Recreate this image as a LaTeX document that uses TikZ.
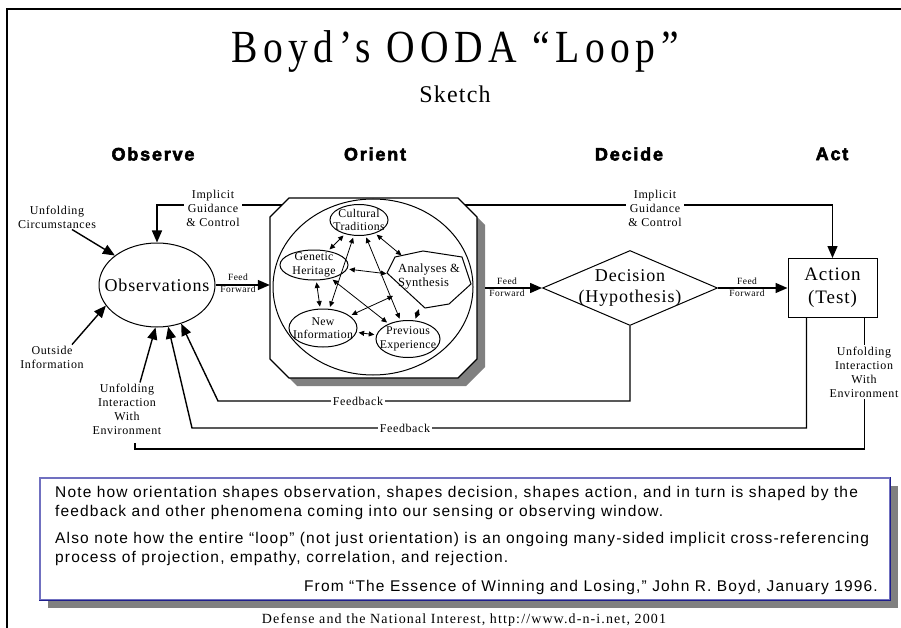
\documentclass[tikz,border=0pt]{standalone}
\usepackage{fontspec}
\setmainfont{Liberation Serif}
\newfontfamily\titlefont[LetterSpace=12,FakeStretch=0.86]{Liberation Serif}
\newfontfamily\spfont[LetterSpace=5]{Liberation Serif}
\newfontfamily\innfont[LetterSpace=3]{Liberation Serif}
\newfontfamily\footfont[LetterSpace=8]{Liberation Serif}
\newfontfamily\headfont[LetterSpace=10,FakeBold=3]{Liberation Sans Bold}
\newfontfamily\notefont[LetterSpace=7.5]{Liberation Sans}
\usetikzlibrary{arrows.meta,shapes.geometric,calc}
\definecolor{shadowgray}{RGB}{128,128,128}
\definecolor{notelight}{RGB}{112,112,192}
\definecolor{notedark}{RGB}{30,30,140}
\begin{document}
\begin{tikzpicture}[x=1pt,y=-1pt,
  labtxt/.style={font=\spfont\fontsize{12}{14}\selectfont, align=center, inner sep=1pt},
  smalltxt/.style={font=\spfont\fontsize{9.5}{12}\selectfont, align=center, inner sep=0pt},
  inntxt/.style={font=\innfont\fontsize{11.8}{13.5}\selectfont, align=center, inner sep=0pt},
  bigtxt/.style={font=\spfont\fontsize{18}{21}\selectfont, align=center, inner sep=0pt},
  headtxt/.style={font=\headfont\fontsize{18}{20}\selectfont},
  connline/.style={line width=1.4pt},
  arrline/.style={connline, -{Triangle[length=12pt,width=10pt]}},
  dblarrow/.style={line width=0.8pt, {Triangle[length=5.5pt,width=5pt]}-{Triangle[length=5.5pt,width=5pt]}, shorten <=2pt, shorten >=2pt},
  ellnode/.style={draw, line width=1pt, ellipse, inner sep=0pt},
  wlabel/.style={labtxt, fill=white, inner sep=2pt},
  notetxt/.style={font=\notefont\fontsize{15.5}{19}\selectfont, inner sep=0pt}
]
\useasboundingbox (0,0) rectangle (901,628);
% frame
\draw[line width=1.5pt] (7,628) -- (7,9) -- (901,9);
% title
\node[font=\titlefont\fontsize{46}{50}\selectfont, anchor=base] (title) at (455,63) {Boyd’s OODA “Loop”};
\node[font=\spfont\fontsize{24}{26}\selectfont, anchor=base] (sub) at (455,103) {Sketch};
% headings
\node[headtxt] (hO) at (153,154) {Observe};
\node[headtxt] (hOr) at (375,154) {Orient};
\node[headtxt] (hD) at (629,154) {Decide};
\node[headtxt] (hA) at (832,154) {Act};

% main nodes
\node[ellnode, minimum width=116, minimum height=84, label={[bigtxt]center:Observations}] (Obs) at (157,285) {};
\node[minimum width=207, minimum height=180, inner sep=0pt] (OR) at (373.5,288) {};
\node[diamond, draw, line width=1pt, minimum width=175, minimum height=75, inner sep=0pt, label={[bigtxt]center:Decision\\(Hypothesis)}] (D) at (630,288) {};
\node[draw, line width=1pt, minimum width=89, minimum height=59, bigtxt, font=\spfont\fontsize{19}{23}\selectfont] (A) at (832.5,288) {Action\\(Test)};

% implicit guidance (behind octagon)
\coordinate (igy) at (0,205);
\draw[arrline] (OR.center |- igy) -| (Obs.north);
\draw[arrline] (OR.center |- igy) -| (A.north);

% octagon with shadow
\fill[shadowgray] (297,206) -- (466,206) -- (485,225) -- (485,367) -- (466,386) -- (297,386) -- (278,367) -- (278,225) -- cycle;
\draw[line width=1.2pt, fill=white] (289,198) -- (458,198) -- (477,217) -- (477,359) -- (458,378) -- (289,378) -- (270,359) -- (270,217) -- cycle;
\node[ellnode, minimum width=200, minimum height=176] (ORC) at (373,287) {};

% inner nodes
\node[ellnode, minimum width=58, minimum height=31, label={[inntxt]center:Cultural\\Traditions}] (CT) at (359,220) {};
\node[ellnode, minimum width=68, minimum height=30, label={[inntxt]center:Genetic\\Heritage}] (GH) at (314,265) {};
\node[ellnode, minimum width=68, minimum height=38, label={[inntxt]center:New\\Information}] (NI) at (323,328) {};
\node[ellnode, minimum width=64, minimum height=37, label={[inntxt]center:Previous\\Experience}] (PE) at (408,339) {};
\node[ellipse, minimum width=84, minimum height=58, inner sep=0pt] (AS) at (430,279) {};
\draw[line width=1pt] (387,273) -- (395,257) -- (423,251) -- (462,257) -- (471,284) -- (449,304) -- (425,308) -- cycle;
\node[inntxt, font=\innfont\fontsize{12.5}{14}\selectfont, align=left] (AStxt) at (429,277) {Analyses \&\\Synthesis};

\draw[dblarrow] (CT) -- (GH);
\draw[dblarrow] (CT) -- (AS);
\draw[dblarrow] (GH) -- (AS);
\draw[dblarrow] (GH) -- (NI);
\draw[dblarrow] (AS) -- (PE);
\draw[dblarrow] (NI) -- (PE);
\draw[dblarrow] (CT) -- (NI);
\draw[dblarrow] (CT) -- (PE);
\draw[dblarrow] (GH) -- (PE);
\draw[dblarrow] (AS) -- (NI);

% feed forward
\draw[arrline] (Obs.east) -- (Obs.east -| OR.west);
\draw[arrline] ([xshift=8pt]OR.east) -- (D.west);
\draw[arrline] (D.east) -- (A.west);
\node[smalltxt] (ff1) at (238,283) {Feed\\Forward};
\node[smalltxt] (ff2) at (507,287) {Feed\\Forward};
\node[smalltxt] (ff3) at (747,287) {Feed\\Forward};

% feedback
\coordinate (fb1) at (218,401);
\draw[arrline] (D.south) |- (fb1) -- (Obs.-58);
\coordinate (fb2) at (192,428);
\draw[arrline] ([xshift=19pt]A.south west) |- (fb2) -- (Obs.-75);
\node[wlabel] (fbl1) at (358,401) {Feedback};
\node[wlabel] (fbl2) at (405,428) {Feedback};

% unfolding interaction loop
\coordinate (bl) at (135,449);
\draw[connline] ([xshift=-13pt]A.south east) |- (bl) -- ++(0,-6);
\node[wlabel] (UIER) at (864,372) {Unfolding\\Interaction\\With\\Environment};
\node[labtxt] (UIEL) at (127,409) {Unfolding\\Interaction\\With\\Environment};
\draw[arrline] ([xshift=13pt]UIEL.north) -- (Obs.-92);

% outside inputs
\node[labtxt] (UC) at (57,217) {Unfolding\\Circumstances};
\draw[arrline] ([xshift=15pt]UC.south) -- (Obs.145);
\node[labtxt] (OI) at (52,357) {Outside\\Information};
\draw[arrline] ([xshift=20pt]OI.north) -- (Obs.202);

% guidance labels
\node[wlabel] (ig1) at (213,208) {Implicit\\Guidance\\\& Control};
\node[wlabel] (ig2) at (655,208) {Implicit\\Guidance\\\& Control};

% note box
\fill[shadowgray] (48,486) rectangle (898,608);
\node[draw=notelight, line width=1.3pt, fill=white, minimum width=850, minimum height=122, inner sep=0pt] (note) at (465,539) {};
\draw[notedark, line width=1.3pt] (note.south west) -- (note.south east) -- (note.north east);
\node[notetxt, align=left, anchor=west] (n1) at (55,502.5) {Note how orientation shapes observation, shapes decision, shapes action, and in turn is shaped by the\\feedback and other phenomena coming into our sensing or observing window.};
\node[notetxt, align=left, anchor=west] (n2) at (55,549) {Also note how the entire “loop” (not just orientation) is an ongoing many-sided implicit cross-referencing\\process of projection, empathy, correlation, and rejection.};
\node[notetxt, anchor=east] (n3) at (878,587) {From “The Essence of Winning and Losing,” John R. Boyd, January 1996.};
% footer
\node[font=\footfont\fontsize{14}{16}\selectfont] (foot) at (464,620) {Defense and the National Interest, http://www.d-n-i.net, 2001};
\end{tikzpicture}
\end{document}
